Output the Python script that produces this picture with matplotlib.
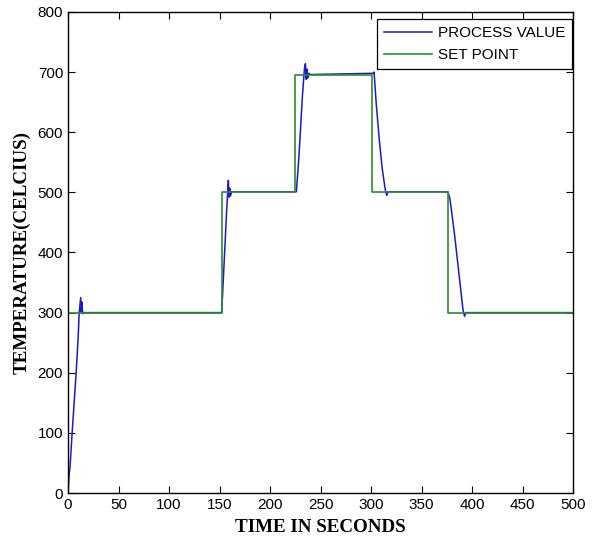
import matplotlib
matplotlib.use("Agg")
import matplotlib.pyplot as plt

# set point profile (step changes)
sp_time = [0, 152, 152, 225, 225, 301, 301, 376, 376, 500]
sp_temp = [300, 300, 500, 500, 695, 695, 500, 500, 300, 300]

# measured process value
pv_time = [0, 1, 2, 4, 6, 8, 10, 11, 12.5, 13, 13.5, 14.5, 15, 152, 153, 155, 157,
           158, 158.7, 159.3, 160, 160.8, 162, 164, 226, 228, 230, 232, 234, 235,
           235.8, 236.5, 237.3, 238.2, 240, 242, 302, 303, 305, 308, 311, 314,
           315.5, 317, 376, 378, 380, 383, 386, 389, 391, 392.5, 394, 500]
pv_temp = [0, 30, 45, 100, 150, 200, 260, 300, 325, 300, 318, 298, 300, 300, 330,
           400, 470, 500, 520, 492, 507, 494, 501, 501, 501, 545, 600, 660, 705,
           714, 688, 705, 690, 698, 696, 696, 698, 700, 650, 590, 540, 505, 495,
           501, 501, 490, 465, 425, 380, 335, 305, 294, 300, 300]

plt.rcParams['font.family'] = ['Liberation Sans', 'DejaVu Sans']

fig = plt.figure(figsize=(5.92, 5.42), dpi=100)
ax = fig.add_axes([0.115, 0.0904, 0.853, 0.8875])

ax.plot(pv_time, pv_temp, color='#1a1acc', lw=1.1, label='PROCESS VALUE')
ax.plot(sp_time, sp_temp, color='#2e8b2e', lw=1.2, label='SET POINT')

ax.set_xlim(0, 500)
ax.set_ylim(0, 800)
ax.set_xticks(range(0, 501, 50))
ax.set_yticks(range(0, 801, 100))
ax.tick_params(direction='in', top=True, right=True, labelsize=11, length=5)
for s in ax.spines.values():
    s.set_linewidth(1.0)

lab = dict(family='Liberation Serif', fontweight='bold', fontsize=13.7)
ax.set_xlabel('TIME IN SECONDS', labelpad=5, **lab)
ax.set_ylabel('TEMPERATURE(CELCIUS)', labelpad=5, **lab)

leg = ax.legend(loc='upper right', bbox_to_anchor=(0.998, 0.985), fontsize=11,
                fancybox=False, framealpha=1, edgecolor='black',
                borderaxespad=0, handlelength=3.1, handletextpad=0.4,
                borderpad=0.45, labelspacing=0.55)
leg.get_frame().set_linewidth(0.9)

fig.savefig('out.png', dpi=100)
